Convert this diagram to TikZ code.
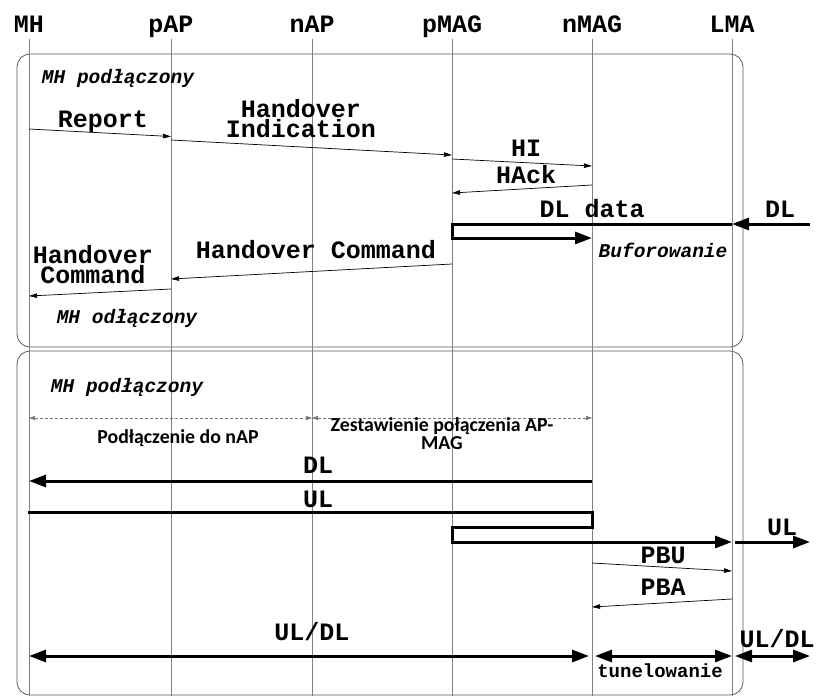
\documentclass[tikz,border=0pt]{standalone}
\usepackage{fontspec}
\setmonofont{Liberation Mono}
\newfontfamily\calfont{Carlito}
\usetikzlibrary{arrows.meta}

\begin{document}
\begin{tikzpicture}[x=1pt,y=-1pt,
  head/.style={font=\ttfamily\bfseries\fontsize{25}{18}\selectfont, anchor=base, inner sep=0pt},
  lbl/.style={font=\ttfamily\bfseries\fontsize{25}{18}\selectfont, anchor=base, align=center, inner sep=0pt},
  note/.style={font=\ttfamily\bfseries\itshape\fontsize{19.5}{20}\selectfont, anchor=base, inner sep=0pt},
  small/.style={font=\ttfamily\bfseries\fontsize{19}{20}\selectfont, anchor=base, inner sep=0pt},
  phase/.style={font=\calfont\bfseries\fontsize{19.8}{11}\selectfont, anchor=base, align=center, inner sep=0pt},
  life/.style={black!50, line width=0.8pt},
  frame/.style={draw=black!65, line width=0.8pt, rounded corners=13pt},
  msg/.style={line width=0.7pt, -{Triangle[length=8pt,width=4.5pt]}},
  flow/.style={line width=3pt, -{Triangle[length=17pt,width=12pt]}},
  flowboth/.style={line width=3pt, {Triangle[length=17pt,width=12pt]}-{Triangle[length=17pt,width=12pt]}},
  span/.style={black!55, densely dashed, line width=0.6pt, {Triangle[length=6pt,width=4pt]}-{Triangle[length=6pt,width=4pt]}}]

\useasboundingbox (0,0) rectangle (818,696);

% Phase frames
\draw[frame] (17,54) rectangle (743,347);
\draw[frame] (17,351) rectangle (743,695);

% Entities and lifelines
\foreach \name/\x in {MH/29,pAP/171,nAP/312,pMAG/452,nMAG/592,LMA/732}{
  \node[head] (\name) at (\x,32) {\name};
  \draw[life] (\name |- 0,39) -- (\name |- 0,696);
}

% Outer ends
\coordinate (dlin) at (810,224);
\coordinate (ulout) at (810,542);
\coordinate (both) at (810,656);

% --- handover preparation ---
\node[note] (att1) at (118,83) {MH podłączony};

\node[lbl] (report) at (103,127) {Report};
\draw[msg] (MH |- 0,129) -- (pAP |- 0,136.5);

\node[lbl] (hoind) at (301,137) {Handover\\Indication};
\draw[msg] (pAP |- 0,140) -- (pMAG |- 0,155);

\node[lbl] (hi) at (526,156) {HI};
\draw[msg] (pMAG |- 0,159) -- (nMAG |- 0,166);

\node[lbl] (hack) at (526,183) {HAck};
\draw[msg] (nMAG |- 0,185) -- (pMAG |- 0,193);

% downlink buffered at nMAG
\node[lbl] (dldata) at (592,217) {DL data};
\node[lbl] (dl1) at (780,217) {DL};
\draw[flow] (dlin) -- (LMA |- dlin);
\draw[flow] (LMA |- 0,224) -- (pMAG |- 0,224) -- (pMAG |- 0,238) -- (nMAG |- 0,238);
\node[note] (buf) at (663,257) {Buforowanie};

\node[lbl] (hocmd) at (316,258) {Handover Command};
\draw[msg] (pMAG |- 0,264) -- (pAP |- 0,279);

\node[lbl] (hocmd2) at (93,283) {Handover\\Command};
\draw[msg] (pAP |- 0,289) -- (MH |- 0,296);

\node[note] (detach) at (127,323) {MH odłączony};

% --- after attachment ---
\node[note] (att2) at (127,392) {MH podłączony};

\draw[span] (MH |- 0,418) -- (nAP |- 0,418);
\draw[span] (nAP |- 0,418) -- (nMAG |- 0,418);
\node[phase] (attach) at (178,443) {Podłączenie do nAP};
\node[phase] (setup) at (442,449) {Zestawienie połączenia AP-\\MAG};

\node[lbl] (dl2) at (318,473) {DL};
\draw[flow] (nMAG |- 0,481) -- (MH |- 0,481);

\node[lbl] (ul1) at (318,507) {UL};
\draw[flow] (28,512) -- (nMAG |- 0,512) -- (nMAG |- 0,527) -- (pMAG |- 0,527)
  -- (pMAG |- 0,542) -- (LMA |- 0,542);
\node[lbl] (ul2) at (782,535) {UL};
\draw[flow] ([xshift=3pt]LMA |- ulout) -- (ulout);

\node[lbl] (pbu) at (663,563) {PBU};
\draw[msg] (nMAG |- 0,563) -- (LMA |- 0,571);

\node[lbl] (pba) at (663,595) {PBA};
\draw[msg] (LMA |- 0,599) -- (nMAG |- 0,607);

\node[lbl] (uldl1) at (312,640) {UL/DL};
\draw[flowboth] (MH |- both) -- ([xshift=-3pt]nMAG |- both);
\draw[flowboth] ([xshift=3pt]nMAG |- both) -- (LMA |- both);
\node[small] (tunnel) at (660,677) {tunelowanie};
\node[lbl] (uldl2) at (777,647) {UL/DL};
\draw[flowboth] ([xshift=3pt]LMA |- both) -- (both);

\end{tikzpicture}
\end{document}
